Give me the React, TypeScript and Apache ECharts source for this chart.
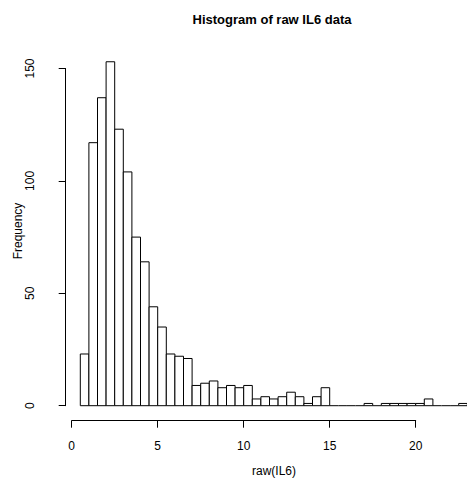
import React, { useEffect, useRef } from "react";
import * as echarts from "echarts";

const breaks = [
  0.5, 1, 1.5, 2, 2.5, 3, 3.5, 4, 4.5, 5, 5.5, 6, 6.5, 7, 7.5, 8, 8.5, 9, 9.5, 10,
  10.5, 11, 11.5, 12, 12.5, 13, 13.5, 14, 14.5, 15, 15.5, 16, 16.5, 17, 17.5, 18,
  18.5, 19, 19.5, 20, 20.5, 21, 21.5, 22, 22.5, 23,
];
const counts = [
  23, 117, 137, 153, 123, 104, 75, 64, 44, 35, 23, 22, 21, 9, 10, 11, 8, 9, 8, 9,
  3, 4, 3, 4, 6, 4, 1, 4, 8, 0, 0, 0, 0, 1, 0, 1, 1, 1, 1, 1,
  3, 0, 0, 0, 1,
];
const xTicks = [0, 5, 10, 15, 20];
const yTicks = [0, 50, 100, 150];
const titleText = "Histogram of raw IL6 data";
const xLabel = "raw(IL6)";
const yLabel = "Frequency";

const FONT = "'Liberation Sans', Arial, Helvetica, sans-serif";

export default function App() {
  const ref = useRef<HTMLDivElement>(null);
  useEffect(() => {
    if (!ref.current) return;
    const chart = echarts.init(ref.current, null, { renderer: "svg" });
    const data = counts.map((c, i) => [breaks[i], breaks[i + 1], c]);
    chart.setOption({
      animation: false,
      backgroundColor: "#ffffff",
      grid: { left: 71.7, right: 51.3, top: 68.5, bottom: 76.3, containLabel: false },
      xAxis: {
        type: "value",
        min: xTicks[0],
        max: xTicks[xTicks.length - 1],
        interval: 5,
        offset: 15,
        axisLine: { show: true, onZero: false, lineStyle: { color: "#000", width: 1 } },
        axisTick: { show: true, inside: false, length: 7, lineStyle: { color: "#000" } },
        axisLabel: { margin: 19, color: "#000", fontSize: 12, fontFamily: FONT },
        splitLine: { show: false },
      },
      yAxis: {
        type: "value",
        min: yTicks[0],
        max: yTicks[yTicks.length - 1],
        interval: 50,
        offset: 6,
        axisLine: { show: true, onZero: false, lineStyle: { color: "#000", width: 1 } },
        axisTick: { show: true, inside: false, length: 7, lineStyle: { color: "#000" } },
        axisLabel: { margin: 30, rotate: 90, color: "#000", fontSize: 12, fontFamily: FONT },
        splitLine: { show: false },
      },
      graphic: [
        {
          type: "text",
          x: 272,
          y: 19,
          style: {
            text: titleText,
            fill: "#000",
            font: `bold 13px ${FONT}`,
            textAlign: "center",
            textVerticalAlign: "middle",
          },
        },
        {
          type: "text",
          x: 274,
          y: 471,
          style: {
            text: xLabel,
            fill: "#000",
            font: `12px ${FONT}`,
            textAlign: "center",
            textVerticalAlign: "middle",
          },
        },
        {
          type: "text",
          x: 18,
          y: 231,
          rotation: Math.PI / 2,
          style: {
            text: yLabel,
            fill: "#000",
            font: `12px ${FONT}`,
            textAlign: "center",
            textVerticalAlign: "middle",
          },
        },
      ],
      series: [
        {
          type: "custom",
          clip: false,
          encode: { x: [0, 1], y: 2 },
          data,
          renderItem: (params: any, api: any) => {
            const s = api.value(0);
            const e = api.value(1);
            const c = api.value(2);
            const p0 = api.coord([s, 0]);
            const p1 = api.coord([e, c]);
            if (c === 0) {
              return {
                type: "line",
                shape: { x1: p0[0], y1: p0[1], x2: p1[0], y2: p0[1] },
                style: { stroke: "#000", lineWidth: 1 },
              };
            }
            return {
              type: "rect",
              shape: { x: p0[0], y: p1[1], width: p1[0] - p0[0], height: p0[1] - p1[1] },
              style: { fill: "#fff", stroke: "#000", lineWidth: 1 },
            };
          },
        },
      ],
    });
    return () => chart.dispose();
  }, []);
  return (
    <div
      ref={ref}
      style={{ position: "fixed", left: 0, top: 0, width: 467, height: 482, background: "#fff" }}
    />
  );
}
